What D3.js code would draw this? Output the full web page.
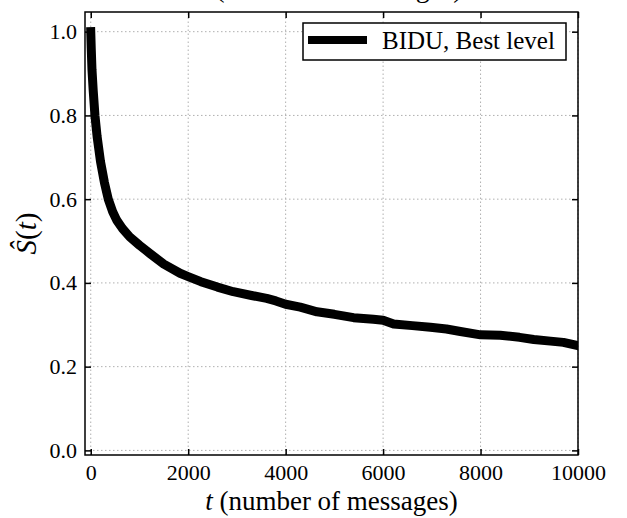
<!DOCTYPE html>
<html>
<head>
<meta charset="utf-8">
<script src="https://cdn.jsdelivr.net/npm/d3@7"></script>
<style>
    body { margin: 0; background: #fff; }
</style>
</head>
<body>
<div id="chart-holder"></div>
<script>
// survival curve
const tValues = [0, 10, 25, 50, 86, 130, 200, 280, 360, 450, 532, 650, 800, 1000, 1217, 1500, 1833, 2000, 2260, 2600,
    2926, 3300, 3611, 3800, 4000, 4300, 4643, 5000, 5395, 5800, 6000, 6216, 6600, 6971, 7300, 7587, 8000, 8404,
    8800, 9093, 9435, 9700, 10000];
const sValues = [1.0, 0.96, 0.91, 0.86, 0.80, 0.75, 0.69, 0.64, 0.60, 0.57, 0.55, 0.53, 0.51, 0.49, 0.47, 0.445, 0.423, 0.415, 0.403, 0.39,
    0.379, 0.37, 0.363, 0.357, 0.349, 0.342, 0.331, 0.325, 0.317, 0.313, 0.311, 0.302, 0.298, 0.294, 0.29, 0.284, 0.276, 0.275,
    0.27, 0.265, 0.261, 0.258, 0.25];

const xTicks = [0, 2000, 4000, 6000, 8000, 10000];
const yTicks = [0.0, 0.2, 0.4, 0.6, 0.8, 1.0];
const seriesName = "BIDU, Best level";

const WIDTH = 627;
const HEIGHT = 518;
const LINE_WIDTH = 9;
const FONT = "'Liberation Serif', 'DejaVu Serif', serif";

const margin = {left: 85, right: 49, top: 12, bottom: 63};

const svg = d3.select("#chart-holder").append("svg")
    .attr("width", WIDTH)
    .attr("height", HEIGHT)
    .attr("font-family", FONT);

const x = d3.scaleLinear().domain([-118, 10000]).range([margin.left, WIDTH - margin.right]);
const y = d3.scaleLinear().domain([-0.011, 1.047]).range([HEIGHT - margin.bottom, margin.top]);

const x0 = margin.left, x1 = WIDTH - margin.right;
const y0 = HEIGHT - margin.bottom, y1 = margin.top;

svg.append("clipPath").attr("id", "plot-clip")
    .append("rect")
    .attr("x", x0).attr("y", y1)
    .attr("width", x1 - x0).attr("height", y0 - y1);

// title, mostly cut off above the page
svg.append("text")
    .attr("x", (x0 + x1) / 2)
    .attr("y", -3)
    .attr("text-anchor", "middle")
    .attr("font-size", 28)
    .html('<tspan font-style="italic">t</tspan> (number of messages)');

// grid
const grid = svg.append("g").attr("stroke", "#b0b0b0").attr("stroke-width", 1).attr("stroke-dasharray", "1.5,2.5");
grid.selectAll(".vgrid").data(xTicks).enter().append("line")
    .attr("x1", d => x(d)).attr("x2", d => x(d))
    .attr("y1", y0).attr("y2", y1);
grid.selectAll(".hgrid").data(yTicks).enter().append("line")
    .attr("x1", x0).attr("x2", x1)
    .attr("y1", d => y(d)).attr("y2", d => y(d));

// survival line
const line = d3.line()
    .x((d, i) => x(tValues[i]))
    .y(d => y(d));

svg.append("path")
    .datum(sValues)
    .attr("clip-path", "url(#plot-clip)")
    .attr("d", line)
    .attr("fill", "none")
    .attr("stroke", "#000")
    .attr("stroke-width", LINE_WIDTH)
    .attr("stroke-linecap", "square")
    .attr("stroke-linejoin", "round");

// axes with inward ticks on all four sides
const TICK = 6;
const axisBottom = d3.axisBottom(x).tickValues(xTicks).tickSize(-TICK).tickPadding(9).tickFormat(d3.format("d"));
const axisTop = d3.axisTop(x).tickValues(xTicks).tickSize(-TICK).tickFormat("");
const axisLeft = d3.axisLeft(y).tickValues(yTicks).tickSize(-TICK).tickPadding(8).tickFormat(d3.format(".1f"));
const axisRight = d3.axisRight(y).tickValues(yTicks).tickSize(-TICK).tickFormat("");

const styleAxis = g => {
    g.attr("font-family", FONT).attr("font-size", 22);
    g.select(".domain").remove();
    g.selectAll(".tick line").attr("stroke", "#000").attr("stroke-width", 1.5);
    g.selectAll(".tick text").attr("fill", "#000");
};

svg.append("g").attr("transform", `translate(0,${y0})`).call(axisBottom).call(styleAxis);
svg.append("g").attr("transform", `translate(0,${y1})`).call(axisTop).call(styleAxis);
svg.append("g").attr("transform", `translate(${x0},0)`).call(axisLeft).call(styleAxis);
svg.append("g").attr("transform", `translate(${x1},0)`).call(axisRight).call(styleAxis);

// frame
svg.append("rect")
    .attr("x", x0).attr("y", y1)
    .attr("width", x1 - x0).attr("height", y0 - y1)
    .attr("fill", "none")
    .attr("stroke", "#000")
    .attr("stroke-width", 1.5);

// axis labels
svg.append("text")
    .attr("x", (x0 + x1) / 2)
    .attr("y", 510)
    .attr("text-anchor", "middle")
    .attr("font-size", 27)
    .html('<tspan font-style="italic">t</tspan> (number of messages)');

svg.append("text")
    .attr("transform", `translate(36,${(y0 + y1) / 2}) rotate(-90)`)
    .attr("text-anchor", "middle")
    .attr("font-size", 29)
    .html('<tspan font-style="italic">Ŝ</tspan>(<tspan font-style="italic">t</tspan>)');

// legend
const legend = svg.append("g");
legend.append("rect")
    .attr("x", 303).attr("y", 23)
    .attr("width", 263).attr("height", 37)
    .attr("fill", "#fff")
    .attr("stroke", "#000")
    .attr("stroke-width", 1.5);
legend.append("line")
    .attr("x1", 312).attr("x2", 363)
    .attr("y1", 40).attr("y2", 40)
    .attr("stroke", "#000")
    .attr("stroke-width", 8)
    .attr("stroke-linecap", "square");
legend.append("text")
    .attr("x", 382).attr("y", 49)
    .attr("font-size", 25)
    .text(seriesName);
</script>
</body>
</html>
